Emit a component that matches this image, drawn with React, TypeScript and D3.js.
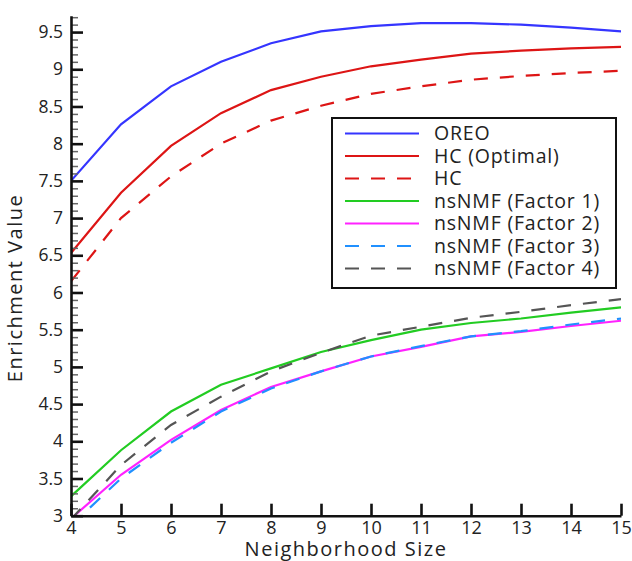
import React, { useEffect, useRef } from 'react';
import * as d3 from 'd3';

// neighborhood sizes on the x axis
const neighborhood = [4, 5, 6, 7, 8, 9, 10, 11, 12, 13, 14, 15];

// enrichment values
const oreo = [7.5, 8.26, 8.77, 9.1, 9.35, 9.51, 9.58, 9.62, 9.62, 9.6, 9.56, 9.51];
const hcOptimal = [6.53, 7.34, 7.97, 8.41, 8.72, 8.9, 9.04, 9.13, 9.21, 9.25, 9.28, 9.3];
const hc = [6.15, 7.0, 7.56, 8.0, 8.31, 8.51, 8.67, 8.77, 8.86, 8.91, 8.95, 8.98];
const factor1 = [3.26, 3.88, 4.4, 4.76, 4.98, 5.2, 5.36, 5.5, 5.59, 5.65, 5.73, 5.8];
const factor2 = [2.96, 3.55, 4.02, 4.42, 4.73, 4.94, 5.14, 5.27, 5.41, 5.47, 5.55, 5.62];
const factor3 = [2.87, 3.5, 3.98, 4.4, 4.71, 4.94, 5.14, 5.28, 5.41, 5.48, 5.57, 5.65];
const factor4 = [2.95, 3.68, 4.22, 4.6, 4.94, 5.19, 5.42, 5.54, 5.66, 5.74, 5.83, 5.91];

const seriesNames = ['OREO', 'HC (Optimal)', 'HC', 'nsNMF (Factor 1)', 'nsNMF (Factor 2)', 'nsNMF (Factor 3)', 'nsNMF (Factor 4)'];
const seriesValues = [oreo, hcOptimal, hc, factor1, factor2, factor3, factor4];
const seriesColors = ['#3535ff', '#dd1515', '#dd1515', '#22cc22', '#ff22ff', '#2090ff', '#555555'];
const seriesDashed = [false, false, true, false, false, true, true];

const yMajorTicks = [3, 3.5, 4, 4.5, 5, 5.5, 6, 6.5, 7, 7.5, 8, 8.5, 9, 9.5];

const App = () => {
  const width = 632;
  const height = 561;
  const margin = { top: 15.7, right: 11, bottom: 45.3, left: 71 };
  const ref = useRef<SVGSVGElement>(null);

  useEffect(() => {
    document.body.style.margin = '0';
    const svg = d3.select(ref.current);
    svg.selectAll('*').remove();

    const font = '"Open Sans", sans-serif';

    const x = d3.scaleLinear([4, 15], [margin.left, width - margin.right]);
    const y = d3.scaleLinear([3, 9.72], [height - margin.bottom, margin.top]);

    svg.append('defs').append('clipPath').attr('id', 'plot-clip')
      .append('rect')
      .attr('x', margin.left)
      .attr('y', margin.top)
      .attr('width', width - margin.left - margin.right)
      .attr('height', height - margin.top - margin.bottom);

    // lines
    const line = d3.line<number>()
      .x((_, i) => x(neighborhood[i]))
      .y(d => y(d));

    const lines = svg.append('g').attr('clip-path', 'url(#plot-clip)');
    seriesValues.forEach((vals, i) => {
      lines.append('path')
        .datum(vals)
        .attr('fill', 'none')
        .attr('stroke', seriesColors[i])
        .attr('stroke-width', 2.2)
        .attr('stroke-dasharray', seriesDashed[i] ? '14,12' : null)
        .attr('d', line);
    });

    // minor y ticks
    const minor = d3.range(30, 98).map(v => v / 10).filter(v => Math.abs(v * 2 - Math.round(v * 2)) > 0.01);
    svg.append('g')
      .attr('transform', `translate(${margin.left},0)`)
      .call(d3.axisLeft(y).tickValues(minor).tickSize(-7).tickFormat(() => ''))
      .call(g => g.select('.domain').remove())
      .call(g => g.selectAll('line').attr('stroke', '#666').attr('stroke-width', 1.5));

    // y axis
    svg.append('g')
      .attr('transform', `translate(${margin.left},0)`)
      .call(d3.axisLeft(y).tickValues(yMajorTicks).tickSize(-12).tickSizeOuter(0).tickPadding(8)
        .tickFormat(d => String(d)))
      .call(g => g.select('.domain').attr('stroke', '#111').attr('stroke-width', 2.6))
      .call(g => g.selectAll('line').attr('stroke', '#111').attr('stroke-width', 2.6))
      .call(g => g.selectAll('text')
        .attr('fill', '#222')
        .style('font-family', font)
        .style('font-size', '17.5px'));

    // x axis
    svg.append('g')
      .attr('transform', `translate(0,${height - margin.bottom})`)
      .call(d3.axisBottom(x).tickValues(neighborhood).tickSize(-12).tickSizeOuter(0).tickPadding(6)
        .tickFormat(d => String(d)))
      .call(g => g.select('.domain').attr('stroke', '#111').attr('stroke-width', 2.6))
      .call(g => g.selectAll('line').attr('stroke', '#111').attr('stroke-width', 2.6))
      .call(g => g.selectAll('text')
        .attr('fill', '#222')
        .style('font-family', font)
        .style('font-size', '18px'));

    // axis titles
    svg.append('text')
      .attr('x', (margin.left + width - margin.right) / 2)
      .attr('y', 556)
      .attr('text-anchor', 'middle')
      .attr('fill', '#222')
      .style('font-family', font)
      .style('font-size', '20px')
      .style('letter-spacing', '1.5px')
      .text('Neighborhood Size');

    svg.append('text')
      .attr('transform', 'translate(22,288) rotate(-90)')
      .attr('text-anchor', 'middle')
      .attr('fill', '#222')
      .style('font-family', font)
      .style('font-size', '20px')
      .style('letter-spacing', '1.5px')
      .text('Enrichment Value');

    // legend
    const legend = svg.append('g');
    legend.append('rect')
      .attr('x', 332).attr('y', 118)
      .attr('width', 284).attr('height', 170)
      .attr('fill', 'white')
      .attr('stroke', '#111')
      .attr('stroke-width', 2);
    seriesNames.forEach((name, i) => {
      const cy = 133.5 + i * 22.5;
      legend.append('line')
        .attr('x1', 345).attr('x2', 419)
        .attr('y1', cy).attr('y2', cy)
        .attr('stroke', seriesColors[i])
        .attr('stroke-width', 2.2)
        .attr('stroke-dasharray', seriesDashed[i] ? '14,12' : null);
      legend.append('text')
        .attr('x', 434).attr('y', cy)
        .attr('dy', '0.35em')
        .attr('fill', '#222')
        .style('font-family', font)
        .style('font-size', '19.5px')
        .style('letter-spacing', '0.8px')
        .text(name);
    });
  }, []);

  return (
    <svg ref={ref} width={width} height={height}
      style={{ display: 'block', background: 'white' }} />
  );
};

export default App;
